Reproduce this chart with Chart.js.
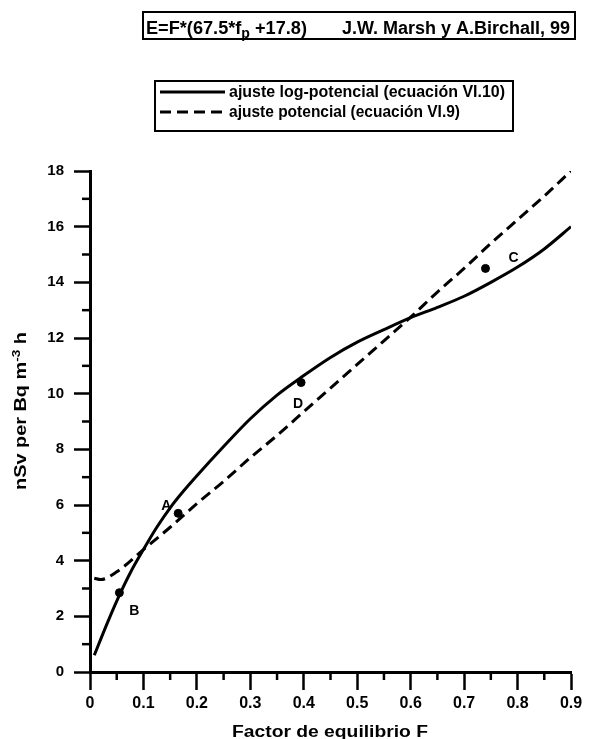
<!DOCTYPE html>
<html><head><meta charset="utf-8">
<script src="https://cdn.jsdelivr.net/npm/chart.js@4.4.1/dist/chart.umd.min.js"></script>
<style>html,body{margin:0;padding:0;background:#fff}#wrap{width:589px;height:739px}</style>
</head><body><div id="wrap"><canvas id="c" width="589" height="739"></canvas></div>
<script>
// ---- data ----
const fLog = [0.008,0.03,0.05,0.075,0.1,0.125,0.15,0.175,0.2,0.25,0.3,0.35,0.4,0.45,0.5,0.55,0.6,0.65,0.7,0.75,0.8,0.85,0.9];
const eLog = [0.6,1.65,2.55,3.55,4.4,5.2,5.9,6.5,7.05,8.1,9.1,9.95,10.65,11.3,11.85,12.3,12.73,13.1,13.5,14.0,14.55,15.2,16.0];
const fPot = [0.008,0.02,0.05,0.1,0.15,0.2,0.25,0.3,0.35,0.4,0.45,0.5,0.55,0.6,0.65,0.7,0.75,0.8,0.85,0.9];
const ePot = [3.37,3.32,3.6,4.4,5.2,6.05,6.85,7.7,8.5,9.35,10.2,11.05,11.9,12.75,13.65,14.5,15.4,16.25,17.1,18.0];
const fExp = [0.055,0.165,0.395,0.74];
const eExp = [2.85,5.7,10.4,14.5];
const expLabels = ['B','A','D','C'];
const seriesLabels = ['ajuste log-potencial (ecuación VI.10)','ajuste potencial (ecuación VI.9)'];
const titleFormula = ['E=F*(67.5*f','p',' +17.8)'];
const titleRef = 'J.W. Marsh y A.Birchall, 99';
const xTitle = 'Factor de equilibrio F';
const yTitleParts = ['nSv per Bq m','-3',' h'];

const FONT = "'Liberation Sans', Arial, sans-serif";
const TICKFONT = "'Liberation Sans', Arial, sans-serif";

function drawRich(ctx, segs, x, y, width){
  let total = 0;
  segs.forEach(s => { ctx.font = 'bold ' + s.size + 'px ' + FONT; s.w = ctx.measureText(s.t).width; total += s.w; });
  const sx = width / total;
  ctx.save();
  ctx.translate(x, y);
  ctx.scale(sx, 1);
  let cx = 0;
  segs.forEach(s => { ctx.font = 'bold ' + s.size + 'px ' + FONT; ctx.fillText(s.t, cx, s.dy || 0); cx += s.w; });
  ctx.restore();
}

const extras = {
  id: 'extras',
  afterDraw(chart){
    const ctx = chart.ctx;
    const xs = chart.scales.x, ys = chart.scales.y;
    ctx.save();
    ctx.fillStyle = '#000'; ctx.strokeStyle = '#000';
    ctx.textBaseline = 'alphabetic'; ctx.textAlign = 'left';
    // minor ticks
    ctx.lineWidth = 2.5;
    xs.ticks.forEach(t => {
      const v = t.value;
      if (Math.abs(v*10 - Math.round(v*10)) > 1e-6) {
        const px = xs.getPixelForValue(v);
        ctx.beginPath(); ctx.moveTo(px, xs.top); ctx.lineTo(px, xs.top + 8); ctx.stroke();
      }
    });
    ys.ticks.forEach(t => {
      const v = t.value;
      if (Math.round(v) % 2 !== 0) {
        const py = ys.getPixelForValue(v);
        ctx.beginPath(); ctx.moveTo(ys.right, py); ctx.lineTo(ys.right - 8, py); ctx.stroke();
      }
    });
    // title box
    ctx.lineWidth = 2;
    ctx.strokeRect(143, 12, 432, 27);
    drawRich(ctx, [{t:titleFormula[0],size:18},{t:titleFormula[1],size:14,dy:4},{t:titleFormula[2],size:18}], 146, 34, 161);
    drawRich(ctx, [{t:titleRef,size:18}], 342, 34, 228);
    // legend box
    ctx.strokeRect(155, 81, 358, 50);
    const ds = chart.data.datasets;
    [0,1].forEach(i => {
      const ly = i === 0 ? 92 : 112;
      ctx.save();
      ctx.lineWidth = 3;
      ctx.setLineDash(ds[i].borderDash || []);
      ctx.beginPath(); ctx.moveTo(160, ly); ctx.lineTo(225, ly); ctx.stroke();
      ctx.restore();
      drawRich(ctx, [{t:ds[i].label,size:16}], 229, ly + 5, i === 0 ? 276 : 231);
    });
    // y title
    ctx.save();
    ctx.translate(26, 490);
    ctx.rotate(-Math.PI/2);
    drawRich(ctx, [{t:yTitleParts[0],size:16},{t:yTitleParts[1],size:11,dy:-6},{t:yTitleParts[2],size:16}], 0, 0, 158);
    ctx.restore();
    // x title
    drawRich(ctx, [{t:xTitle,size:16}], 232, 737, 196);
    // point labels
    const offs = [[15,22],[-12,-3],[-3,25],[28,-6]];
    ctx.font = 'bold 14px ' + FONT;
    ctx.textAlign = 'center';
    fExp.forEach((f,i) => {
      const px = xs.getPixelForValue(f), py = ys.getPixelForValue(eExp[i]);
      ctx.fillText(expLabels[i], px + offs[i][0], py + offs[i][1]);
    });
    ctx.restore();
  }
};

const isMajorX = v => Math.abs(v*10 - Math.round(v*10)) < 1e-6;
new Chart(document.getElementById('c'), {
  type: 'line',
  data: {
    datasets: [
      { label: seriesLabels[0], data: fLog.map((f,i)=>({x:f,y:eLog[i]})), borderColor:'#000', borderWidth:3, pointRadius:0, cubicInterpolationMode:'monotone', fill:false },
      { label: seriesLabels[1], data: fPot.map((f,i)=>({x:f,y:ePot[i]})), borderColor:'#000', borderWidth:3, borderDash:[11,6], pointRadius:0, cubicInterpolationMode:'monotone', fill:false },
      { label: 'datos', data: fExp.map((f,i)=>({x:f,y:eExp[i]})), showLine:false, pointRadius:4, pointBackgroundColor:'#000', pointBorderColor:'#000', borderColor:'#000' }
    ]
  },
  options: {
    responsive:false, animation:false, devicePixelRatio:1,
    layout:{ padding:{ top:171, right:18, left:0, bottom:0 } },
    plugins:{ legend:{display:false}, title:{display:false}, tooltip:{enabled:false} },
    scales:{
      x:{ type:'linear', min:0, max:0.9,
        afterFit: s => { s.height = 67; },
        border:{ display:true, color:'#000', width:3 },
        grid:{ display:true, drawOnChartArea:false, drawTicks:true, tickLength:18, tickWidth:2.5,
               tickColor: c => (c.tick && isMajorX(c.tick.value)) ? '#000' : 'rgba(0,0,0,0)' },
        ticks:{ stepSize:0.05, autoSkip:false, maxRotation:0, padding:4, color:'#000',
                font:{ family:TICKFONT, size:16, weight:'bold' },
                callback: v => isMajorX(v) ? (Math.abs(v) < 1e-9 ? '0' : v.toFixed(1)) : '' } },
      y:{ type:'linear', min:0, max:18,
        afterFit: s => { s.width = 90; },
        border:{ display:true, color:'#000', width:3 },
        grid:{ display:true, drawOnChartArea:false, drawTicks:true, tickLength:16, tickWidth:2.5,
               tickColor: c => (c.tick && Math.round(c.tick.value) % 2 === 0) ? '#000' : 'rgba(0,0,0,0)' },
        ticks:{ stepSize:1, autoSkip:false, padding:10, color:'#000',
                font:{ family:TICKFONT, size:15, weight:'bold' },
                callback: v => (Math.round(v) % 2 === 0) ? String(v) : '' } }
    }
  },
  plugins:[extras]
});
</script></body></html>
